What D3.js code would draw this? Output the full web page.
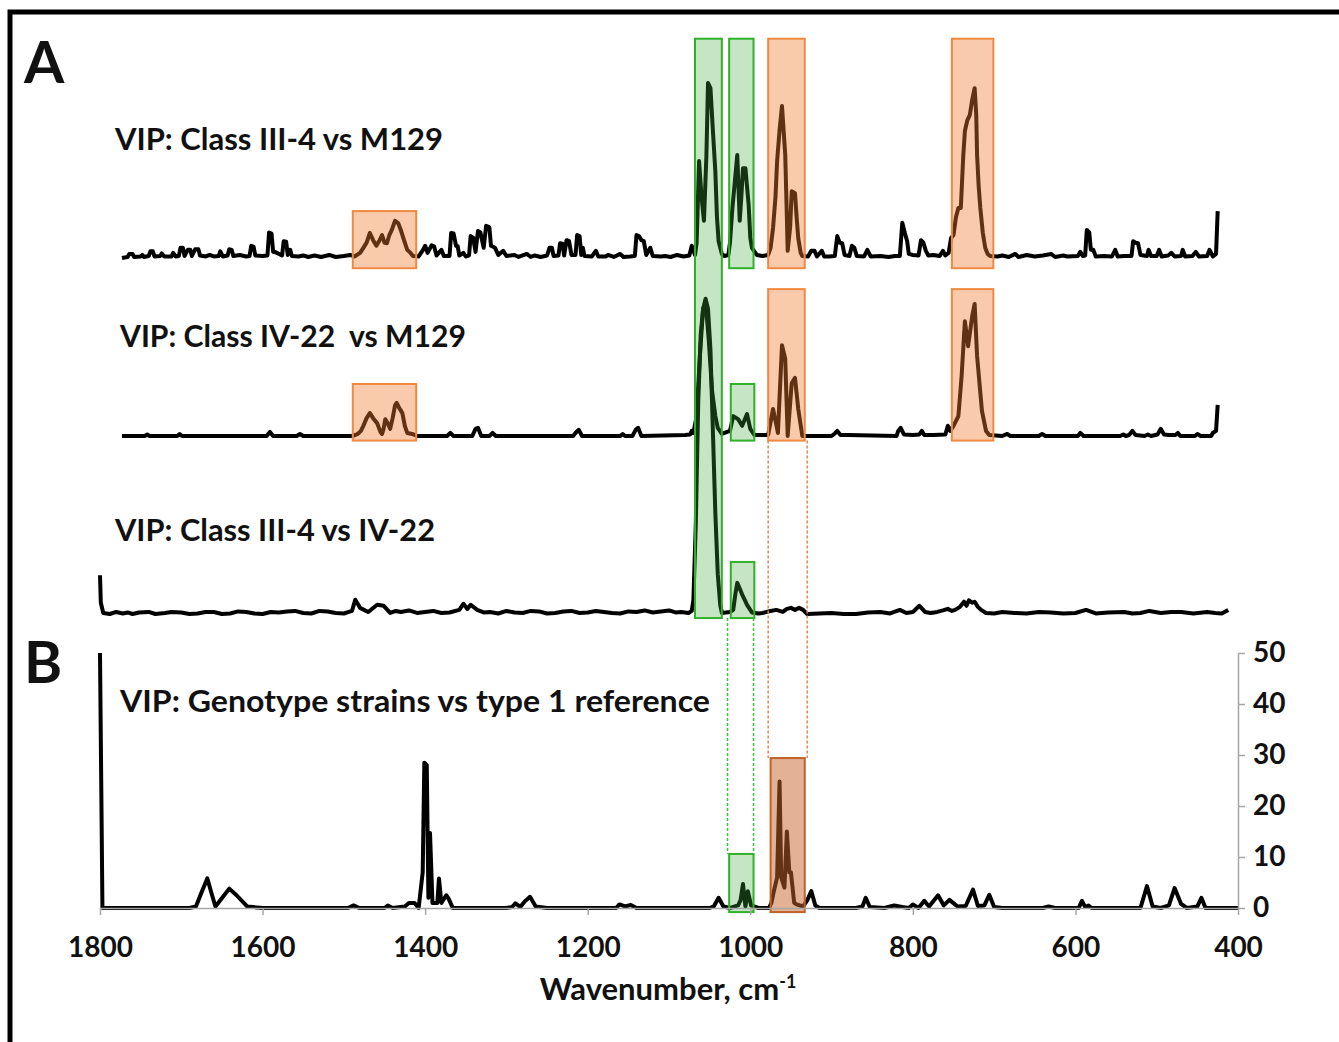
<!DOCTYPE html>
<html>
<head>
<meta charset="utf-8">
<script src="https://cdn.jsdelivr.net/npm/d3@7"></script>
<style>
  body { margin: 0; background: #fff; }
  text { font-family: Lato, "Open Sans", sans-serif; font-weight: bold; fill: #111; }
</style>
</head>
<body>
<svg id="fig" width="1339" height="1042"></svg>
<script>
const svg = d3.select("#fig");

// ---- data (wavenumber cm-1, VIP score) ----
const xTicks = [1800, 1600, 1400, 1200, 1000, 800, 600, 400];
const yTicks = [0, 10, 20, 30, 40, 50];
const traceLabels = ["VIP: Class III-4 vs M129", "VIP: Class IV-22  vs M129", "VIP: Class III-4 vs IV-22"];
const panelBLabel = "VIP: Genotype strains vs type 1 reference";

const vipIII4vsM129 = [
  [1773,0],[1766,0.2],[1764,0.8],[1760,0.8],[1758,0.2],[1750,0.3],[1748,0.6],[1746,0.2],[1740,0.4],[1738,1.3],
  [1735,1.3],[1733,0.3],[1726,0.4],[1724,0.9],[1721,0.3],[1712,0.3],[1710,1.0],[1707,0.3],[1703,0.4],[1701,2.0],
  [1698,2.0],[1696,0.4],[1692,1.6],[1689,1.6],[1687,0.4],[1683,1.7],[1679,1.7],[1677,0.5],[1670,0.3],[1665,0.6],
  [1660,0.3],[1654,0.4],[1652,1.3],[1649,0.3],[1643,0.5],[1641,1.7],[1638,1.6],[1636,0.4],[1628,0.6],[1620,0.3],
  [1616,0.4],[1614,2.4],[1611,2.2],[1609,0.5],[1600,0.4],[1594,0.5],[1592,5.0],[1589,4.8],[1587,1.2],[1585,1.2],
  [1576,0.5],[1574,3.3],[1571,3.2],[1569,0.6],[1566,1.6],[1564,0.4],[1556,0.3],[1550,0.5],[1544,0.2],[1536,0.5],
  [1528,0.2],[1518,0.6],[1510,0.2],[1500,0.4],[1492,0.6],[1487,0.3],[1480,1.0],[1476,2.0],[1472,3.0],[1468,4.9],
  [1464,3.5],[1460,2.4],[1456,3.5],[1453,4.5],[1450,3.0],[1447,2.9],[1444,4.5],[1441,5.5],[1437,7.3],[1433,6.8],
  [1430,5.5],[1426,3.5],[1422,1.6],[1418,1.0],[1415,0.4],[1408,0.3],[1403,1.5],[1400,2.4],[1397,1.0],[1392,2.5],
  [1389,2.3],[1386,0.5],[1380,1.6],[1377,0.4],[1370,0.4],[1368,4.9],[1365,4.8],[1362,2.4],[1360,2.3],[1358,0.5],
  [1353,1.0],[1350,0.3],[1346,0.5],[1344,4.3],[1341,4.0],[1338,1.2],[1335,5.3],[1332,5.0],[1328,2.0],[1325,6.3],
  [1321,6.0],[1319,2.4],[1314,2.0],[1310,0.6],[1304,1.4],[1300,0.4],[1290,0.6],[1285,0.2],[1275,0.8],[1270,0.2],
  [1265,0.5],[1258,0.2],[1250,0.5],[1247,2.0],[1244,2.0],[1242,0.4],[1236,0.5],[1234,2.9],[1231,2.8],[1229,0.5],
  [1226,3.5],[1223,3.3],[1220,0.6],[1215,0.6],[1213,4.5],[1210,4.3],[1208,0.6],[1206,2.0],[1204,0.4],[1195,0.3],
  [1190,1.4],[1187,0.3],[1178,0.3],[1175,0.6],[1168,0.2],[1160,0.8],[1156,0.2],[1148,0.3],[1142,0.4],[1140,4.5],
  [1137,4.3],[1134,3.5],[1131,3.3],[1128,0.6],[1123,2.0],[1120,0.4],[1110,0.3],[1105,0.4],[1098,0.2],[1090,0.6],
  [1082,0.3],[1075,0.5],[1072,2.4],[1070,1.4],[1068,0.6],[1066,3],[1063,19],[1060,12],[1057,7.3],[1054,20],
  [1052,34.3],[1049,33.3],[1046,25],[1043,17],[1041,8],[1039,3.3],[1035,0.8],[1032,0.4],[1027,0.6],[1025,3],
  [1022,9.8],[1019,15],[1016,20.2],[1013,7.3],[1011,12],[1009,17.6],[1006,17.6],[1004,14],[1002,10.4],[1000,4],
  [998,2.0],[992,0.6],[985,0.4],[978,0.6],[975,2],[972,5.9],[969,12],[967,19],[964,25],[961,29.8],
  [959,25],[957,20.2],[955,8],[954,1.4],[951,6],[949,13.1],[945,12.7],[943,8],[941,3.9],[938,1],
  [936,0.4],[929,0.3],[925,1.4],[921,1.4],[918,0.3],[912,1.4],[909,0.3],[903,0.3],[896,0.4],[893,4.3],
  [890,3.0],[887,2.9],[884,0.6],[878,0.4],[875,2.4],[872,2.0],[869,0.4],[860,0.3],[856,1.6],[852,0.3],
  [840,0.4],[830,0.2],[822,0.4],[816,0.4],[813,6.9],[810,5.0],[807,3.3],[805,0.8],[800,0.6],[793,0.5],
  [790,3.5],[787,3.0],[784,1.4],[781,0.5],[775,0.6],[767,0.4],[763,1.4],[760,0.5],[756,1.0],[753,3.9],
  [750,4.5],[747,8],[744,9.8],[741,9.8],[738,20],[736,24.9],[733,27],[730,28],[727,31],[724,33.3],
  [722,28],[721,20.2],[719,14],[717,9.8],[714,5],[711,2.0],[708,0.8],[705,0.4],[696,0.3],[690,0.5],
  [682,0.2],[674,0.8],[670,0.2],[660,0.6],[650,0.3],[640,0.5],[630,0.8],[625,0.2],[615,0.5],[610,0.3],
  [597,0.4],[594,1.2],[591,0.4],[588,0.5],[586,5.5],[583,5.0],[581,1.6],[578,1.6],[575,0.3],[565,0.4],
  [555,0.3],[551,1.6],[548,0.3],[540,0.4],[531,0.4],[529,3.3],[526,3.0],[523,2.9],[520,0.6],[512,0.4],
  [510,1.6],[507,0.4],[500,0.4],[497,1.6],[494,0.3],[486,0.5],[482,1.0],[478,0.3],[470,0.4],[468,1.6],
  [465,0.3],[456,0.4],[452,1.2],[448,0.3],[438,0.4],[435,1.6],[431,0.3],[427,0.8],[425,9.2]
];

const vipIV22vsM129 = [
  [1773,0],[1745,0],[1742,0.3],[1739,0],[1705,0],[1702,0.4],[1699,0],[1595,0],[1591,0.8],[1587,0],
  [1558,0],[1554,0.4],[1550,0],[1490,0],[1486,0.2],[1483,0.4],[1479,1.0],[1476,2.0],[1472,3.5],[1468,4.5],
  [1464,3.5],[1459,2.5],[1455,0.8],[1453,0.4],[1451,1.5],[1449,3.3],[1446,2.5],[1443,1.4],[1440,3.5],[1437,6.0],
  [1435,6.5],[1432,5.5],[1428,4.5],[1425,2.0],[1422,0.6],[1416,0.4],[1410,0],[1373,0],[1369,0.6],[1365,0],
  [1342,0],[1338,1.4],[1335,1.6],[1331,0],[1321,0],[1317,0.6],[1313,0],[1218,0],[1214,0.8],[1211,1.2],
  [1207,0],[1160,0],[1157,0.4],[1154,0],[1145,0],[1141,1.2],[1138,1.6],[1134,0],[1080,0.2],[1074,0.3],
  [1072,1.0],[1070,0.6],[1066,3.9],[1062,15.7],[1058,25.1],[1054,24.5],[1051,18.6],[1047,8.8],[1043,3.9],[1040,1.6],
  [1035,0.4],[1025,1.0],[1021,3.9],[1015,3.3],[1010,2.0],[1004,4.3],[1000,1.4],[995,0.2],[978,0.2],[972,5.3],
  [966,0.6],[961,17.8],[957,15.1],[954,0],[949,10.4],[945,11.4],[941,5.3],[936,0],[900,0],[896,0.5],
  [893,1.0],[889,0.2],[880,0.2],[820,0],[818,1.0],[815,1.6],[811,0.3],[800,0.2],[792,0.3],[789,1.0],
  [786,0.2],[775,0.2],[760,0.3],[757,2.0],[754,1.0],[750,2.0],[744,3.9],[740,11.8],[736,22.5],[732,17.6],
  [727,23.5],[724,25.9],[721,15.7],[715,4.9],[710,1.0],[706,0.2],[690,0],[684,0.4],[680,0],[645,0],
  [641,0.4],[637,0],[597,0],[594,0.6],[590,0],[545,0],[541,0.3],[538,0],[534,0.2],[530,1.0],
  [526,0.2],[515,0],[511,0.3],[507,0],[499,0.3],[495,1.4],[491,0.3],[485,0.2],[477,0.2],[474,0.6],
  [471,0],[453,0],[450,0.4],[446,0],[433,0],[431,0.6],[427,1.0],[425,6.1]
];

const vipIII4vsIV22 = [
  [1800,7.8],[1799,2.4],[1796,0.4],[1788,0.2],[1780,0.6],[1772,0.3],[1766,0.5],[1760,0.2],[1752,0.5],[1740,0.6],
  [1732,0.2],[1720,0.4],[1712,0.6],[1700,0.5],[1690,0.2],[1680,0.3],[1670,0.6],[1660,0.6],[1650,0.2],[1640,0.3],
  [1630,0.7],[1620,0.6],[1610,0.3],[1600,0.2],[1590,0.6],[1580,0.5],[1570,0.7],[1560,0.8],[1550,0.4],[1540,0.3],
  [1530,0.8],[1520,0.7],[1510,0.4],[1500,0.3],[1490,0.8],[1486,3.0],[1480,1.4],[1470,0.6],[1459,2.0],[1451,1.8],
  [1443,0.4],[1436,0.8],[1430,0.6],[1420,0.9],[1410,0.4],[1400,0.6],[1390,0.8],[1380,0.4],[1370,0.5],[1358,1.0],
  [1353,2.2],[1348,1.2],[1344,2.0],[1336,1.0],[1328,0.5],[1320,0.6],[1310,0.3],[1300,0.8],[1290,0.5],[1280,0.4],
  [1270,0.8],[1260,0.7],[1250,0.3],[1240,0.4],[1230,0.7],[1220,0.8],[1210,0.4],[1200,0.5],[1190,0.8],[1180,0.6],
  [1170,0.4],[1160,0.3],[1150,0.7],[1140,0.6],[1130,0.9],[1120,0.5],[1110,0.7],[1100,0.9],[1092,0.5],[1085,0.6],
  [1076,0.4],[1072,0.8],[1070,3.0],[1067,18],[1064,42],[1061,55],[1058,60],[1055,62],[1052,60],[1049,52],
  [1046,36],[1043,20],[1040,8],[1037,2.0],[1035,0.4],[1025,0.6],[1021,1.0],[1018,4.5],[1016,6.3],[1013,5.2],
  [1010,4.0],[1007,3.0],[1004,2.0],[998,0.5],[990,0.3],[985,0.4],[975,0.8],[968,1.0],[960,0.6],[955,1.2],
  [950,1.4],[945,1.0],[940,1.4],[935,1.0],[930,0.2],[915,0.3],[900,0.4],[885,0.2],[870,0.2],[855,0.5],
  [840,0.6],[828,0.3],[816,1.0],[808,0.4],[800,0.6],[792,1.8],[785,0.6],[778,0.4],[770,0.6],[763,0.9],
  [757,1.2],[752,0.8],[748,1.0],[742,1.6],[737,2.6],[734,1.8],[731,2.9],[727,2.4],[724,2.6],[720,1.6],
  [716,1.0],[710,0.4],[700,0.3],[690,0.6],[675,0.4],[660,0.3],[645,0.6],[630,0.5],[615,0.3],[600,0.4],
  [587,1.0],[575,0.3],[560,0.5],[540,0.6],[530,0.3],[520,0.4],[509,0.8],[495,0.4],[482,0.6],[470,0.6],
  [455,0.3],[438,0.6],[428,0.4],[420,0.3],[412,1.0]
];

const vipGenotypes = [
  [1800,50],[1797,0],[1690,0],[1682,0.3],[1674,3.5],[1668,5.8],[1663,3],[1658,0.3],[1652,1.5],[1641,3.8],
  [1632,2.5],[1619,0.3],[1600,0],[1495,0],[1488,0.5],[1481,0],[1450,0],[1446,0.5],[1440,0],[1425,0.3],
  [1420,1.0],[1413,1.0],[1408,0],[1403,7],[1401,28.5],[1398,28],[1396,2],[1394,14.7],[1391,1],[1385,1],
  [1383,5.8],[1380,1],[1374,2.5],[1371,1.8],[1366,0],[1300,0],[1293,0.2],[1289,0.9],[1283,0.2],[1278,1.2],
  [1271,2.2],[1264,0.3],[1250,0],[1165,0],[1161,0.7],[1154,0.3],[1147,0.6],[1140,0],[1050,0],[1045,0.3],
  [1039,2],[1033,0.3],[1025,0],[1015,0.5],[1012,1.5],[1009,4.7],[1006,0.3],[1003,3.3],[999,0.5],[990,0],
  [977,0],[974,1],[971,3.3],[967,6],[964,24.8],[962,6],[958,4],[955,15],[952,7],[950,7],
  [946,1],[943,0.7],[935,0.3],[930,1.5],[925,3.3],[920,0.5],[915,0],[870,0],[862,0.3],[858,2],
  [853,0.2],[835,0],[823,0.5],[813,0.2],[805,0],[800,0.7],[793,0],[786,1.4],[780,0.3],[769,2.5],
  [762,0.5],[755,1.6],[745,0.3],[735,0.4],[726,3.6],[720,0.4],[712,0.5],[706,2.6],[700,0.2],[690,0],
  [640,0],[633,0.3],[625,0],[596,0],[592,1.4],[588,0.2],[584,0.5],[580,0],[520,0],[512,4.3],[505,0.3],
  [495,0],[485,0.5],[478,3.9],[470,0.8],[463,0],[450,0.3],[445,2],[440,0],[400,0]
];

// highlighted wavenumber bands
const greenBands = [[1068, 1035], [1026, 996]];
const orangeBands = [[1489, 1411], [978, 933], [752, 701]];

// ---- scales ----
const x = d3.scaleLinear().domain([1800, 400]).range([100, 1238]);
const baselines = [258, 436, 615];
const yA = baselines.map((b) => d3.scaleLinear().domain([0, 50]).range([b, b - 255]));
const yB = d3.scaleLinear().domain([0, 50]).range([908, 653]);

const GREEN = { fill: "#3faa3c", stroke: "#2fb02a", op: 0.3 };
const ORANGE = { fill: "#f07a30", stroke: "#f08a40", op: 0.4 };
const ORANGE_B = { fill: "#c8642a", stroke: "#c0602a", op: 0.5 };

// outer frame
svg.append("rect")
  .attr("x", 10).attr("y", 12)
  .attr("width", 1345).attr("height", 1045)
  .attr("fill", "none").attr("stroke", "#000").attr("stroke-width", 5);

// panel letters
svg.append("text").attr("x", 24).attr("y", 83).style("font-size", "58px").text("A");
svg.append("text").attr("x", 24).attr("y", 683).style("font-size", "58px").text("B");

// ---- panel A traces ----
const traces = [vipIII4vsM129, vipIV22vsM129, vipIII4vsIV22];
const labelPos = [[115, 150, 328], [120, 347, 346], [115, 541, 320]];

traces.forEach((data, i) => {
  const line = d3.line().x((d) => x(d[0])).y((d) => yA[i](d[1]));
  svg.append("path")
    .datum(data)
    .attr("d", line)
    .attr("fill", "none")
    .attr("stroke", "#000")
    .attr("stroke-width", 4)
    .attr("stroke-linejoin", "round");

  svg.append("text")
    .attr("x", labelPos[i][0])
    .attr("y", labelPos[i][1])
    .attr("textLength", labelPos[i][2])
    .attr("lengthAdjust", "spacingAndGlyphs")
    .style("font-size", "30px")
    .style("white-space", "pre")
    .text(traceLabels[i]);
});

// ---- panel B trace ----
const lineB = d3.line().x((d) => x(d[0])).y((d) => yB(d[1]));
svg.append("path")
  .datum(vipGenotypes)
  .attr("d", lineB)
  .attr("fill", "none")
  .attr("stroke", "#000")
  .attr("stroke-width", 4)
  .attr("stroke-linejoin", "round");

svg.append("text")
  .attr("x", 120).attr("y", 712)
  .attr("textLength", 590)
  .attr("lengthAdjust", "spacingAndGlyphs")
  .style("font-size", "30px")
  .text(panelBLabel);

// ---- boxes (drawn on top, translucent) ----
const boxes = [
  { band: greenBands[0], top: yA[0](43), bottom: yA[2](-0.6), c: GREEN },
  { band: greenBands[1], top: yA[0](43), bottom: yA[0](-2), c: GREEN },
  { band: orangeBands[1], top: yA[0](43), bottom: yA[0](-2), c: ORANGE },
  { band: orangeBands[2], top: yA[0](43), bottom: yA[0](-2), c: ORANGE },
  { band: orangeBands[0], top: yA[0](9.2), bottom: yA[0](-2), c: ORANGE },
  { band: orangeBands[0], top: yA[1](10.2), bottom: yA[1](-0.9), c: ORANGE },
  { band: [1024, 995], top: yA[1](10.2), bottom: yA[1](-0.9), c: GREEN },
  { band: orangeBands[1], top: yA[1](28.8), bottom: yA[1](-0.9), c: ORANGE },
  { band: orangeBands[2], top: yA[1](28.8), bottom: yA[1](-0.9), c: ORANGE },
  { band: [1024, 995], top: yA[2](10.4), bottom: yA[2](-0.6), c: GREEN },
  { band: greenBands[1], top: yB(10.6), bottom: yB(-0.8), c: GREEN },
  { band: [975, 933], top: yB(29.4), bottom: yB(-0.8), c: ORANGE_B },
];

svg.selectAll(".hl")
  .data(boxes)
  .enter()
  .append("rect")
  .attr("class", "hl")
  .attr("x", (d) => x(d.band[0]))
  .attr("y", (d) => d.top)
  .attr("width", (d) => x(d.band[1]) - x(d.band[0]))
  .attr("height", (d) => d.bottom - d.top)
  .attr("fill", (d) => d.c.fill)
  .attr("fill-opacity", (d) => d.c.op)
  .attr("stroke", (d) => d.c.stroke)
  .attr("stroke-width", 2);

// dashed connectors between panels
const connectors = [
  { wn: 1028, y0: yA[2](-0.6), y1: yB(10.6), color: "#3cbf3c" },
  { wn: 996, y0: yA[2](-0.6), y1: yB(10.6), color: "#3cbf3c" },
  { wn: 978, y0: yA[1](-0.9), y1: yB(29.4), color: "#e8844a" },
  { wn: 930, y0: yA[1](-0.9), y1: yB(29.4), color: "#e8844a" },
];
svg.selectAll(".conn")
  .data(connectors)
  .enter()
  .append("line")
  .attr("x1", (d) => x(d.wn)).attr("x2", (d) => x(d.wn))
  .attr("y1", (d) => d.y0).attr("y2", (d) => d.y1)
  .attr("stroke", (d) => d.color)
  .attr("stroke-width", 1.5)
  .attr("stroke-dasharray", "3,2");

// ---- axes (panel B) ----
const axisGrey = "#a6a6a6";
svg.append("g")
  .attr("transform", "translate(0,908)")
  .call(d3.axisBottom(x).tickValues(xTicks).tickSize(7).tickSizeOuter(0).tickPadding(22).tickFormat(d3.format("d")))
  .call((g) => g.selectAll(".domain, .tick line").attr("stroke", axisGrey).attr("stroke-width", 1.5))
  .call((g) => g.selectAll("text").style("font-size", "28px").style("font-family", "Lato, sans-serif").attr("fill", "#111"));

svg.append("g")
  .attr("transform", "translate(1238,0)")
  .call(d3.axisRight(yB).tickValues(yTicks).tickSize(7).tickSizeOuter(0).tickPadding(8))
  .call((g) => g.selectAll(".domain, .tick line").attr("stroke", axisGrey).attr("stroke-width", 1.5))
  .call((g) => g.selectAll("text").style("font-size", "28px").style("font-family", "Lato, sans-serif").attr("fill", "#111"));

// x axis title
const xt = svg.append("text")
  .attr("x", 668).attr("y", 1000)
  .attr("text-anchor", "middle")
  .style("font-size", "31px");
xt.append("tspan").text("Wavenumber, cm");
xt.append("tspan").attr("dy", -12).style("font-size", "18px").text("-1");
</script>
</body>
</html>
